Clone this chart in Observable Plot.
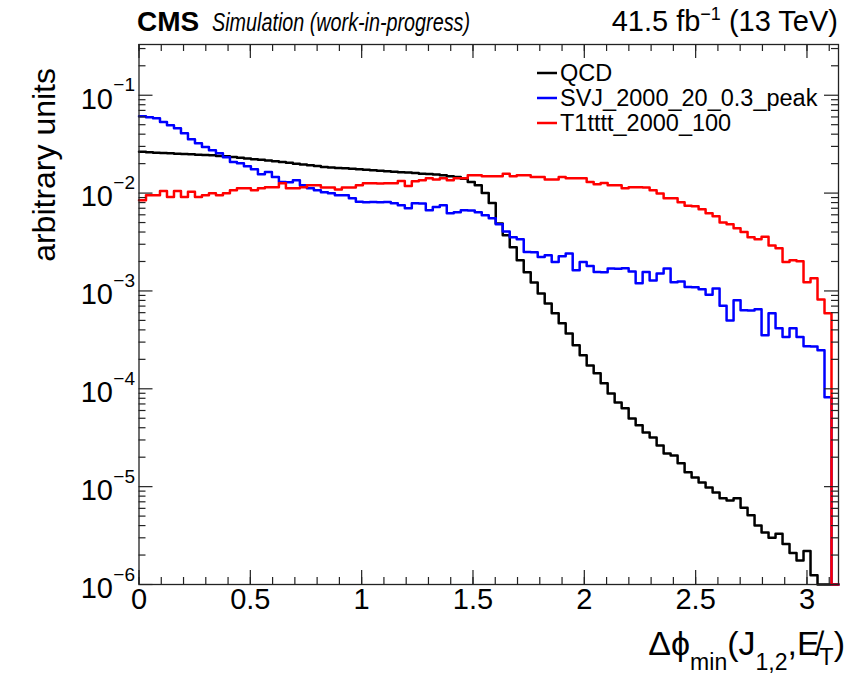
<!DOCTYPE html>
<html><head><meta charset="utf-8">
<script src="https://cdn.jsdelivr.net/npm/d3@7"></script>
<script src="https://cdn.jsdelivr.net/npm/@observablehq/plot@0.6"></script>
<style>body{margin:0;background:#fff}svg{display:block}</style>
</head><body><div id="chart"></div>
<script>
// ---- data: 100 bins of dphi_min between 0 and pi ----
const nBins = 100;
const xMin = 0, xMax = Math.PI;
const qcd = [
 0.0264,0.0262,0.0259,0.0257,0.0255,0.0253,0.0251,0.0249,0.0247,0.0245,
 0.0243,0.0240,0.0238,0.0234,0.0230,0.0226,0.0222,0.0219,0.0215,0.0211,
 0.0208,0.0204,0.0200,0.0196,0.0192,0.0189,0.0185,0.0183,0.0181,0.0179,
 0.0177,0.0175,0.0173,0.0171,0.0169,0.0167,0.0165,0.0163,0.0162,0.0160,
 0.0158,0.0157,0.0155,0.0152,0.0149,0.0146,0.0140,0.0130,0.0120,0.0100,
 0.0079,0.0049,0.00370,0.00279,0.00206,0.00155,0.00122,0.000944,0.000746,0.000590,
 0.000467,0.000368,0.000278,0.000220,0.000173,0.000144,0.000114,8.97e-5,7.26e-5,6.31e-5,
 4.98e-5,4.23e-5,3.58e-5,3.18e-5,2.64e-5,2.18e-5,2.08e-5,1.73e-5,1.40e-5,1.24e-5,
 1.10e-5,9.8e-6,8.7e-6,7.6e-6,7.2e-6,7.6e-6,6.1e-6,5.1e-6,4.0e-6,3.4e-6,
 3.0e-6,3.3e-6,2.6e-6,2.1e-6,1.76e-6,2.2e-6,1.24e-6,0,0,0
];
const svj = [
 0.0610,0.0596,0.0582,0.0533,0.0493,0.0460,0.0408,0.0355,0.0323,0.0296,
 0.0274,0.0255,0.0232,0.0208,0.0202,0.0188,0.0175,0.0156,0.0164,0.0146,
 0.0130,0.0129,0.0135,0.0120,0.0112,0.0107,0.0102,0.00995,0.00951,0.00948,
 0.00885,0.00815,0.00808,0.00812,0.00805,0.00810,0.00787,0.00750,0.00700,0.00787,
 0.00785,0.00667,0.00722,0.00750,0.00622,0.00637,0.00667,0.00664,0.00637,0.00593,
 0.00552,0.00480,0.00406,0.00353,0.00337,0.00250,0.00249,0.00222,0.00231,0.00198,
 0.00226,0.00242,0.00163,0.00198,0.00180,0.00156,0.00155,0.00170,0.00169,0.00171,
 0.00158,0.00120,0.00156,0.00128,0.00151,0.00170,0.00123,0.00125,0.00110,0.00109,
 0.00104,0.000912,0.00106,0.000705,0.000500,0.000802,0.000634,0.000630,0.000649,0.000352,
 0.000590,0.000415,0.000338,0.000415,0.000338,0.000272,0.000270,0.000247,0.0000822,0
];
const t1tttt = [
 0.00843,0.00951,0.00950,0.0105,0.00912,0.0105,0.00912,0.0103,0.00912,0.00951,
 0.00995,0.00951,0.00995,0.0107,0.0112,0.0112,0.0107,0.0112,0.0115,0.0115,
 0.0126,0.0112,0.0112,0.0115,0.0120,0.0120,0.0114,0.0114,0.0109,0.0114,
 0.0114,0.0120,0.0126,0.0126,0.0125,0.0126,0.0126,0.0133,0.0118,0.0132,
 0.0135,0.0142,0.0138,0.0142,0.0135,0.0142,0.0142,0.0152,0.0152,0.0149,
 0.0149,0.0149,0.0158,0.0149,0.0152,0.0152,0.0146,0.0146,0.0138,0.0138,
 0.0146,0.0142,0.0142,0.0142,0.0130,0.0123,0.0127,0.0120,0.0120,0.0112,
 0.0115,0.0115,0.0114,0.0107,0.00988,0.00885,0.00885,0.00805,0.00741,0.00733,
 0.00683,0.00621,0.00579,0.00502,0.00480,0.00437,0.00400,0.00353,0.00337,0.00357,
 0.00292,0.00273,0.00198,0.00206,0.00201,0.00123,0.00135,0.00082,0.00059,0
];
const seriesNames = ["QCD", "SVJ_2000_20_0.3_peak", "T1tttt_2000_100"];
const seriesValues = [qcd, svj, t1tttt];
const seriesColors = ["#000000", "#0000ff", "#ff0000"];
const xMajorTicks = [0, 0.5, 1, 1.5, 2, 2.5, 3];
const xTickLabels = ["0", "0.5", "1", "1.5", "2", "2.5", "3"];
const xMinorTicks = d3.range(0, 3.15, 0.1);
const yDecades = [1e-6, 1e-5, 1e-4, 1e-3, 1e-2, 1e-1];
const yExponents = ["\u22126", "\u22125", "\u22124", "\u22123", "\u22122", "\u22121"];
const yDomain = [1e-6, 0.33];
const yMinorTicks = yDecades.flatMap(d => [2,3,4,5,6,7,8,9].map(m => m * d)).filter(v => v <= yDomain[1]);

// ---- layout ----
const W = 849, H = 683;
const mL = 138.5, mR = 11, mT = 44, mB = 99;
const pw = W - mL - mR, ph = H - mT - mB;
const FONT = "'Liberation Sans', Arial, Helvetica, sans-serif";

const binW = (xMax - xMin) / nBins;
function histRows(vals, name) {
  const rows = vals.map((v, i) => ({x: xMin + i * binW, y: v > 0 ? v : yDomain[0], s: name}));
  rows.push({x: xMax, y: rows[rows.length - 1].y, s: name});
  return rows;
}

const tickColor = "#222";
const histMarks = [0, 1, 2].map(i =>
  Plot.line(histRows(seriesValues[i], seriesNames[i]), {x: "x", y: "y", stroke: seriesColors[i], strokeWidth: 2.5, curve: "step-after"})
);

const plot = Plot.plot({
  width: W, height: H,
  marginLeft: mL, marginRight: mR, marginTop: mT, marginBottom: mB,
  style: {fontFamily: FONT, background: "#fff", color: "#000"},
  x: {domain: [xMin, xMax], axis: null},
  y: {type: "log", domain: yDomain, axis: null},
  marks: [
    ...histMarks,
    Plot.tickX(xMinorTicks, {x: d => d, stroke: tickColor, strokeWidth: 1.2, insetTop: ph - 7}),
    Plot.tickX(xMajorTicks, {x: d => d, stroke: tickColor, strokeWidth: 1.2, insetTop: ph - 14}),
    Plot.tickX(xMinorTicks, {x: d => d, stroke: tickColor, strokeWidth: 1.2, insetBottom: ph - 7}),
    Plot.tickX(xMajorTicks, {x: d => d, stroke: tickColor, strokeWidth: 1.2, insetBottom: ph - 14}),
    Plot.tickY(yMinorTicks, {y: d => d, stroke: tickColor, strokeWidth: 1.2, insetRight: pw - 7}),
    Plot.tickY(yDecades, {y: d => d, stroke: tickColor, strokeWidth: 1.2, insetRight: pw - 14}),
    Plot.tickY(yMinorTicks, {y: d => d, stroke: tickColor, strokeWidth: 1.2, insetLeft: pw - 7}),
    Plot.tickY(yDecades, {y: d => d, stroke: tickColor, strokeWidth: 1.2, insetLeft: pw - 14}),
    Plot.frame({stroke: tickColor, strokeWidth: 1.3}),
    Plot.text(xMajorTicks, {x: d => d, frameAnchor: "bottom", dy: 24, text: (d, i) => xTickLabels[i], fontSize: 29, fill: "#000"}),
    Plot.text(yDecades, {y: d => d, frameAnchor: "left", dx: -26, dy: 4, text: () => "10", textAnchor: "end", fontSize: 29, fill: "#000"}),
    Plot.text(yDecades, {y: d => d, frameAnchor: "left", dx: -4, dy: -10, text: (d, i) => yExponents[i], textAnchor: "end", fontSize: 19, fill: "#000"})
  ]
});
document.getElementById("chart").appendChild(plot);

// ---- titles, legend ----
const svg = d3.select(plot);
const g = svg.append("g").attr("font-family", FONT).attr("fill", "#000").attr("text-anchor", "start");

g.append("text").attr("x", 137).attr("y", 31).attr("font-size", 28).attr("font-weight", "bold").text("CMS");
g.append("text").attr("x", 212).attr("y", 31).attr("font-size", 25).attr("font-style", "italic")
  .attr("textLength", 258).attr("lengthAdjust", "spacingAndGlyphs").text("Simulation (work-in-progress)");
const lumi = g.append("text").attr("x", 838).attr("y", 31).attr("font-size", 29).attr("text-anchor", "end");
lumi.append("tspan").text("41.5 fb");
lumi.append("tspan").attr("font-size", 18).attr("dy", -11).text("\u22121");
lumi.append("tspan").attr("dy", 11).text(" (13 TeV)");

// y title
g.append("text").attr("transform", "translate(55,68) rotate(-90)").attr("text-anchor", "end").attr("font-size", 32).text("arbitrary units");

// x title: Δϕ_min(J_1,2, E̸_T)
const xt = g.append("text").attr("x", 845).attr("y", 655).attr("text-anchor", "end").attr("font-size", 34);
xt.append("tspan").text("\u0394\u03d5");
xt.append("tspan").attr("font-size", 23).attr("dy", 15).text("min");
xt.append("tspan").attr("dy", -15).text("(J");
xt.append("tspan").attr("font-size", 23).attr("dy", 15).text("1,2");
xt.append("tspan").attr("dy", -15).text(",E\u0338");
xt.append("tspan").attr("font-size", 23).attr("dy", 10).text("T");
xt.append("tspan").attr("dy", -10).text(")");

// legend
const legX = 537, legY0 = 73, legDy = 25;
seriesNames.forEach((name, i) => {
  const y = legY0 + i * legDy;
  g.append("line").attr("x1", legX).attr("x2", legX + 20).attr("y1", y).attr("y2", y)
    .attr("stroke", seriesColors[i]).attr("stroke-width", 2.5);
  g.append("text").attr("x", legX + 23).attr("y", y + 8).attr("font-size", 23.5).text(name);
});
</script>
</body></html>
